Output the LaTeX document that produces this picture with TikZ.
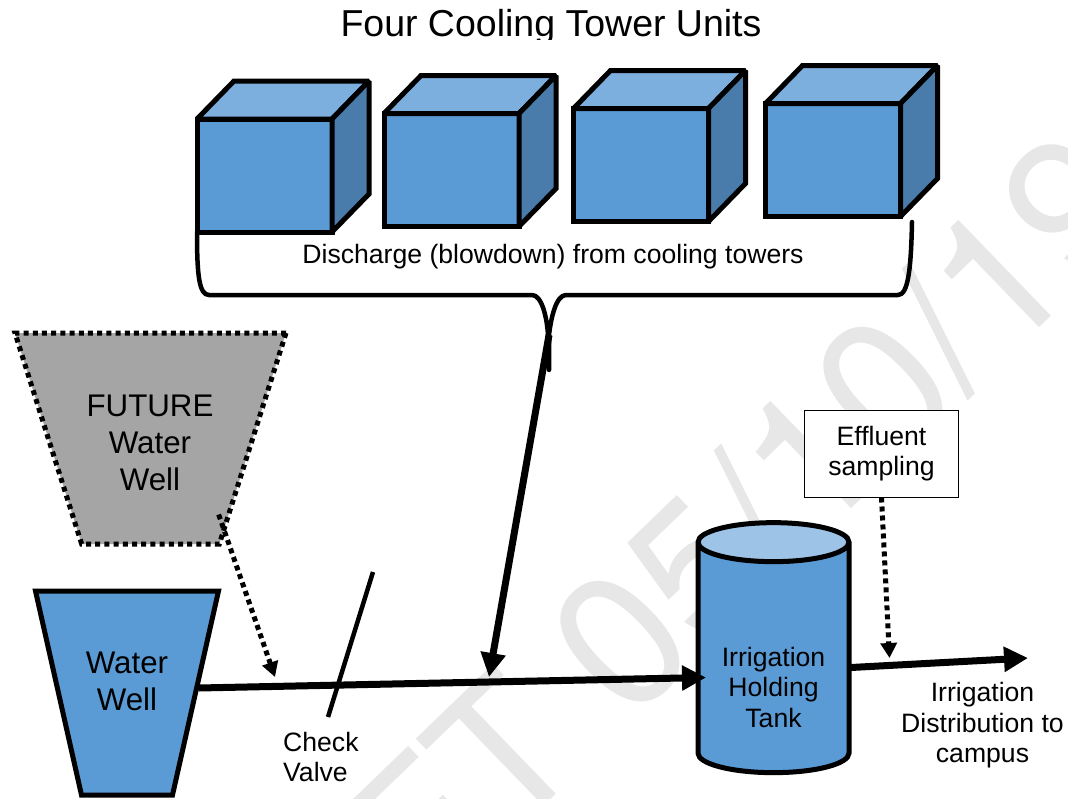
\documentclass[tikz,border=0pt]{standalone}
\usepackage{fontspec}
\setmainfont{Liberation Sans}
\newfontfamily\stampfont{TeX Gyre Heros}
\usetikzlibrary{positioning}
\usetikzlibrary{calc}
\usetikzlibrary{arrows.meta}
\usetikzlibrary{shapes.geometric}
\definecolor{towerfront}{HTML}{5B9BD5}
\definecolor{towertop}{HTML}{7CAEDE}
\definecolor{towerside}{HTML}{4A7CAB}
\definecolor{tanktop}{HTML}{9DC3E6}
\definecolor{futuregrey}{HTML}{A5A5A5}
\definecolor{stampgrey}{HTML}{E7E7E7}
\newcommand{\smalltext}{\fontsize{26.6}{30.5}\selectfont}
\newcommand{\welltext}{\fontsize{31.3}{37}\selectfont}
\tikzset{
	towerbox/.style={draw, rectangle, fill=towerfront, line width=5pt, minimum width=135pt, minimum height=113pt, inner sep=0pt, outer sep=0pt},
	towerface/.style={draw, line width=5pt, miter limit=2},
	pipe/.style={draw, line width=7pt, -{Triangle[length=24pt, width=24pt]}},
	sampleline/.style={draw, line width=5pt, dash pattern=on 5pt off 4pt, -{Triangle[length=15pt, width=16pt]}},
	wellbox/.style={draw, trapezium, shape border rotate=180, trapezium stretches body, inner sep=10pt, outer sep=0pt},
	plaintext/.style={align=center, inner sep=0pt, text=black, font=\smalltext},
	welllabel/.style={align=center, inner sep=0pt, text=black, font=\welltext}
}
\begin{document}
\begin{tikzpicture}[x=1pt, y=-1pt]
	\useasboundingbox (0, 0) rectangle (1068, 798);
	\node[rotate=44, text=stampgrey, inner sep=0pt, font=\stampfont\fontsize{188}{188}\selectfont](stamp) at (601, 658) {DRAFT 05/10/19};

	% title, its descender is cut off
	\begin{scope}
		\clip (300, 0) rectangle (800, 39);
		\node[plaintext, font=\fontsize{37.5}{40}\selectfont](title) at (551, 27) {Four Cooling Tower Units};
	\end{scope}

	% the towers
	\foreach \cx/\cy/\cname in {264.5/175.5/tower1, 451.5/170/tower2, 641/165/tower3, 833/160/tower4}{
		\node[towerbox](\cname) at (\cx, \cy) {};
		\draw[towerface, fill=towertop] (\cname.north west) -- ++(37, -38) -- ++(135, 0) -- (\cname.north east) -- cycle;
		\draw[towerface, fill=towerside] (\cname.north east) -- ++(37, -38) -- ++(0, 113) -- (\cname.south east) -- cycle;
	}

	% the brace under the towers
	\coordinate (bracetip) at (549, 370);
	\draw[line width=4.5pt, line cap=round, line join=round] (tower1.south west) .. controls (197, 275) and (199, 295) .. (209, 295) -- (532, 295)
		.. controls (542, 295) and (547, 318) .. (548, 335) -- (bracetip)
		-- (549, 335) .. controls (551, 318) and (556, 295) .. (566, 295) -- (898, 295)
		.. controls (908, 295) and (911, 270) .. (912, 222);
	\node[plaintext](discharge) at (553, 257) {Discharge (blowdown) from cooling towers};

	\node[wellbox, trapezium left angle=16.7, trapezium right angle=16.7, fill=futuregrey, line width=5pt, dash pattern=on 5pt off 4.2pt, minimum height=211pt, minimum width=271pt](future) at (150.5, 438.5) {};
	\node[welllabel](futurelabel) at (150, 443) {FUTURE\\Water\\Well};

	\node[wellbox, trapezium left angle=23.5, trapezium right angle=23.5, fill=towerfront, line width=5pt, minimum height=204pt, minimum width=183pt](well) at (127, 693) {};
	\node[welllabel](welllabel) at (127, 681) {Water\\Well};

	\node[draw, cylinder, shape border rotate=90, aspect=1.95, cylinder uses custom fill, cylinder body fill=towerfront, cylinder end fill=tanktop, line width=5pt, minimum width=151pt, minimum height=250pt, inner sep=10pt, outer sep=0pt](tank) at (773.5, 663.5) {};
	\node[plaintext](tanklabel) at (773.5, 687) {Irrigation\\Holding\\Tank};

	\node[draw, rectangle, fill=white, line width=1pt, minimum width=154.5pt, minimum height=87pt, align=center, inner sep=0pt, font=\smalltext, text depth=5pt](effluent) at (881.5, 453.5) {Effluent\\sampling};

	% pipes
	\coordinate (joinbrace) at (549, 335);
	\coordinate (joinpipe) at (489, 677);
	\coordinate (futurein) at (275, 677);
	\coordinate (samplein) at (889.5, 658);
	\coordinate (campus) at (1028, 658);
	\draw[pipe] ([shift={(3, -5)}]well.east) -- ([shift={(8, 14)}]tank.west);
	\draw[pipe] ([shift={(2, 4)}]tank.east) -- (campus);
	\draw[pipe] (joinbrace) -- (joinpipe);
	\draw[sampleline] ([shift={(-34, 76)}]future.east) -- (futurein);
	\draw[sampleline] (effluent.south) -- (samplein);

	% check valve
	\coordinate (valvetop) at (373, 572);
	\coordinate (valvebottom) at (328, 717);
	\draw[line width=4.5pt] (valvetop) -- (valvebottom);
	\node[plaintext, align=left, anchor=west](valve) at (283, 757) {Check\\Valve};
	\node[plaintext](campuslabel) at (982.5, 725.5) {Irrigation\\Distribution to\\campus};
\end{tikzpicture}
\end{document}
